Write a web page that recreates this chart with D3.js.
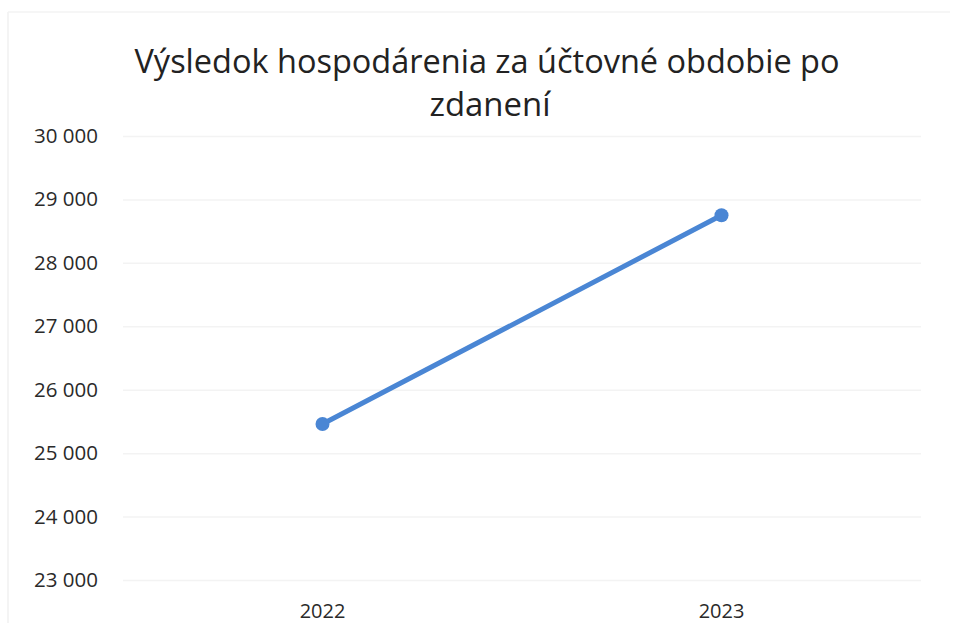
<!DOCTYPE html>
<html><head><meta charset="utf-8">
<script src="https://cdn.jsdelivr.net/npm/d3@7"></script>
<style>body{margin:0;background:#fff}svg{display:block}</style>
</head><body>
<svg id="c" width="954" height="623"></svg>
<script>
const categories = ["2022", "2023"];
const values = [25460, 28750];
const yTicks = [23000, 24000, 25000, 26000, 27000, 28000, 29000, 30000];
const titleLines = ["Výsledok hospodárenia za účtovné obdobie po", "zdanení"];

const svg = d3.select("#c");
const W = 954, H = 623;
const m = {left: 123, right: 33, top: 136, bottom: 43};
svg.append("line").attr("x1", 8).attr("x2", 8).attr("y1", 12).attr("y2", H)
  .attr("stroke", "#f0f0f0").attr("stroke-width", 1.5);
svg.append("line").attr("x1", 8).attr("x2", W - 4).attr("y1", 12).attr("y2", 12)
  .attr("stroke", "#f3f3f3").attr("stroke-width", 1.5);

const x = d3.scaleBand().domain(categories).range([m.left, W - m.right]);
const y = d3.scaleLinear().domain([23000, 30000]).range([H - m.bottom, m.top]);

const fmt = d => d3.format(",")(d).replace(/,/g, " ");

const yAxis = d3.axisLeft(y).tickValues(yTicks).tickFormat(fmt).tickSize(-(W - m.left - m.right)).tickPadding(25);
const gy = svg.append("g").attr("transform", `translate(${m.left},0)`).call(yAxis);
gy.select(".domain").remove();
gy.selectAll(".tick line").attr("stroke", "#f3f3f3").attr("stroke-width", 1.5);
gy.selectAll(".tick text").attr("font-family", "'Open Sans', sans-serif").attr("font-size", 20.5).attr("fill", "#2a2a2a");

const xAxis = d3.axisBottom(x).tickSize(0).tickPadding(24);
const gx = svg.append("g").attr("transform", `translate(0,${H - m.bottom})`).call(xAxis);
gx.select(".domain").remove();
gx.selectAll(".tick text").attr("font-family", "'Open Sans', sans-serif").attr("font-size", 20).attr("fill", "#2a2a2a");

const pts = categories.map((c, i) => [x(c) + x.bandwidth() / 2, y(values[i])]);
svg.append("path").attr("d", d3.line()(pts)).attr("fill", "none")
  .attr("stroke", "#4a86d4").attr("stroke-width", 5).attr("stroke-linecap", "round");
svg.selectAll("circle.p").data(pts).join("circle").attr("class", "p")
  .attr("cx", d => d[0]).attr("cy", d => d[1]).attr("r", 7).attr("fill", "#4a86d4");

svg.append("text").attr("x", 487).attr("y", 73).attr("text-anchor", "middle")
  .attr("font-family", "'Open Sans', sans-serif").attr("font-size", 33).attr("fill", "#222")
  .attr("textLength", 705).attr("lengthAdjust", "spacingAndGlyphs").text(titleLines[0]);
svg.append("text").attr("x", 490).attr("y", 116).attr("text-anchor", "middle")
  .attr("font-family", "'Open Sans', sans-serif").attr("font-size", 33).attr("fill", "#222")
  .attr("textLength", 121).attr("lengthAdjust", "spacingAndGlyphs").text(titleLines[1]);
</script>
</body></html>
